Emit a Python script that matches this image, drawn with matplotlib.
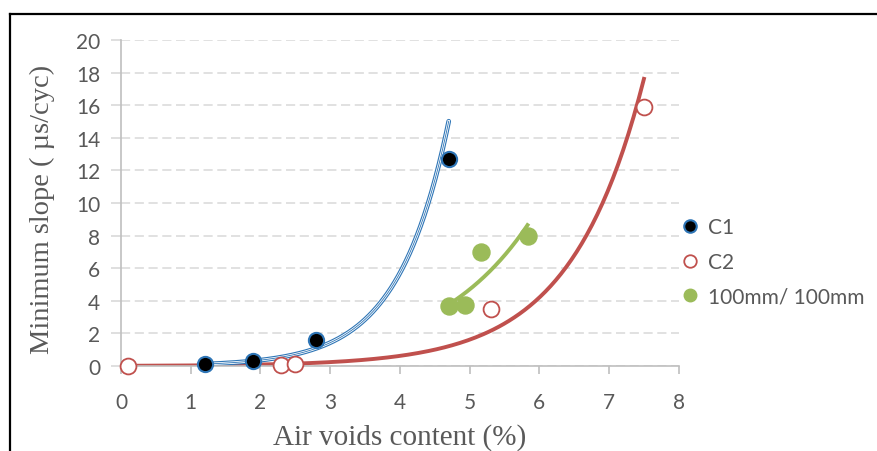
import numpy as np
import matplotlib
matplotlib.use("Agg")
import matplotlib.pyplot as plt
from matplotlib.lines import Line2D

# data
c1_x = [1.2, 1.9, 2.8, 4.7]
c1_y = [0.1, 0.3, 1.6, 12.7]
c2_x = [0.1, 2.3, 2.5, 5.3, 7.5]
c2_y = [0.022, 0.085, 0.1, 3.5, 15.9]
g_x = [4.7, 4.93, 5.17, 5.83]
g_y = [3.7, 3.75, 7.0, 8.0]
labels = ["C1", "C2", "100mm/ 100mm"]

txt_col = "#595959"
blue = "#2E75B6"
red = "#C0504D"
green = "#9BBB59"


def exp_trend(x, y, n=200):
    # excel-style exponential trendline (fit in log space)
    b, lna = np.polyfit(x, np.log(y), 1)
    xs = np.linspace(min(x), max(x), n)
    return xs, np.exp(lna + b * xs)


fig = plt.figure(figsize=(8.77, 4.52), dpi=100)
ax = fig.add_axes([0.138, 0.188, 0.636, 0.721])

ax.set_xlim(0, 8)
ax.set_ylim(0, 20)
ax.set_xticks(range(0, 9))
ax.set_yticks(range(0, 21, 2))
ax.yaxis.grid(True, color="#d9d9d9", linestyle=(0, (6, 3)), linewidth=1.1)
ax.set_axisbelow(True)
for s in ["top", "right"]:
    ax.spines[s].set_visible(False)
for s in ["left", "bottom"]:
    ax.spines[s].set_color("#bfbfbf")
    ax.spines[s].set_linewidth(1.2)
ax.tick_params(axis="x", colors="#bfbfbf", labelcolor=txt_col, labelsize=15,
               length=6, width=1.2, direction="out", pad=12.5)
ax.tick_params(axis="y", colors="#d9d9d9", labelcolor=txt_col, labelsize=15,
               length=7, width=1.2, direction="out", pad=8)
for t in ax.get_xticklabels() + ax.get_yticklabels():
    t.set_family("Lato")

# trendlines
xs, ys = exp_trend(c2_x, c2_y)
ax.plot(xs, ys, color=red, lw=2.8, zorder=2)
xs, ys = exp_trend(g_x, g_y)
ax.plot(xs, ys, color=green, lw=2.8, zorder=2)
xs, ys = exp_trend(c1_x, c1_y)
ax.plot(xs, ys, color=blue, lw=3.4, zorder=2, solid_capstyle="round")
ax.plot(xs, ys, color="white", lw=1.8, zorder=2)
ax.plot(xs, ys, color=blue, lw=0.6, zorder=2)

# points
ax.scatter(c1_x, c1_y, s=120, color="black", edgecolor=blue, linewidth=1.5, zorder=3, clip_on=False)
ax.scatter(c2_x, c2_y, s=130, facecolor="white", edgecolor=red, linewidth=1.3, zorder=3, clip_on=False)
ax.scatter(g_x, g_y, s=150, color=green, edgecolor=green, zorder=3, clip_on=False)

ax.set_xlabel("Air voids content (%)", family="Liberation Serif", fontsize=21,
              color=txt_col, va="center")
ax.xaxis.set_label_coords(0.5, -0.215)
ax.set_ylabel("Minimum slope ( \u00b5s/cyc)", family="Liberation Serif", fontsize=20.5,
              color=txt_col, va="center")
ax.yaxis.set_label_coords(-0.1416, 0.485)

handles = [
    Line2D([], [], ls="", marker="o", ms=9, mfc="black", mec=blue, mew=1.5),
    Line2D([], [], ls="", marker="o", ms=9, mfc="white", mec=red, mew=1.3),
    Line2D([], [], ls="", marker="o", ms=9, mfc=green, mec=green),
]
leg = fig.legend(handles, labels, loc="center left", bbox_to_anchor=(0.7776, 0.418),
                 frameon=False, borderpad=0, borderaxespad=0, handlelength=0.8,
                 handletextpad=0.45, labelspacing=0.7,
                 prop={"family": "Lato", "size": 15})
for t in leg.get_texts():
    t.set_color(txt_col)

# outer frame (partly cut off at right / bottom)
fig.add_artist(Line2D([10 / 877, 1.0], [1 - 15 / 452] * 2, transform=fig.transFigure,
                      color="black", lw=1.6))
fig.add_artist(Line2D([10 / 877] * 2, [0.0, 1 - 15 / 452], transform=fig.transFigure,
                      color="black", lw=1.6))

fig.savefig("out.png", dpi=100)
